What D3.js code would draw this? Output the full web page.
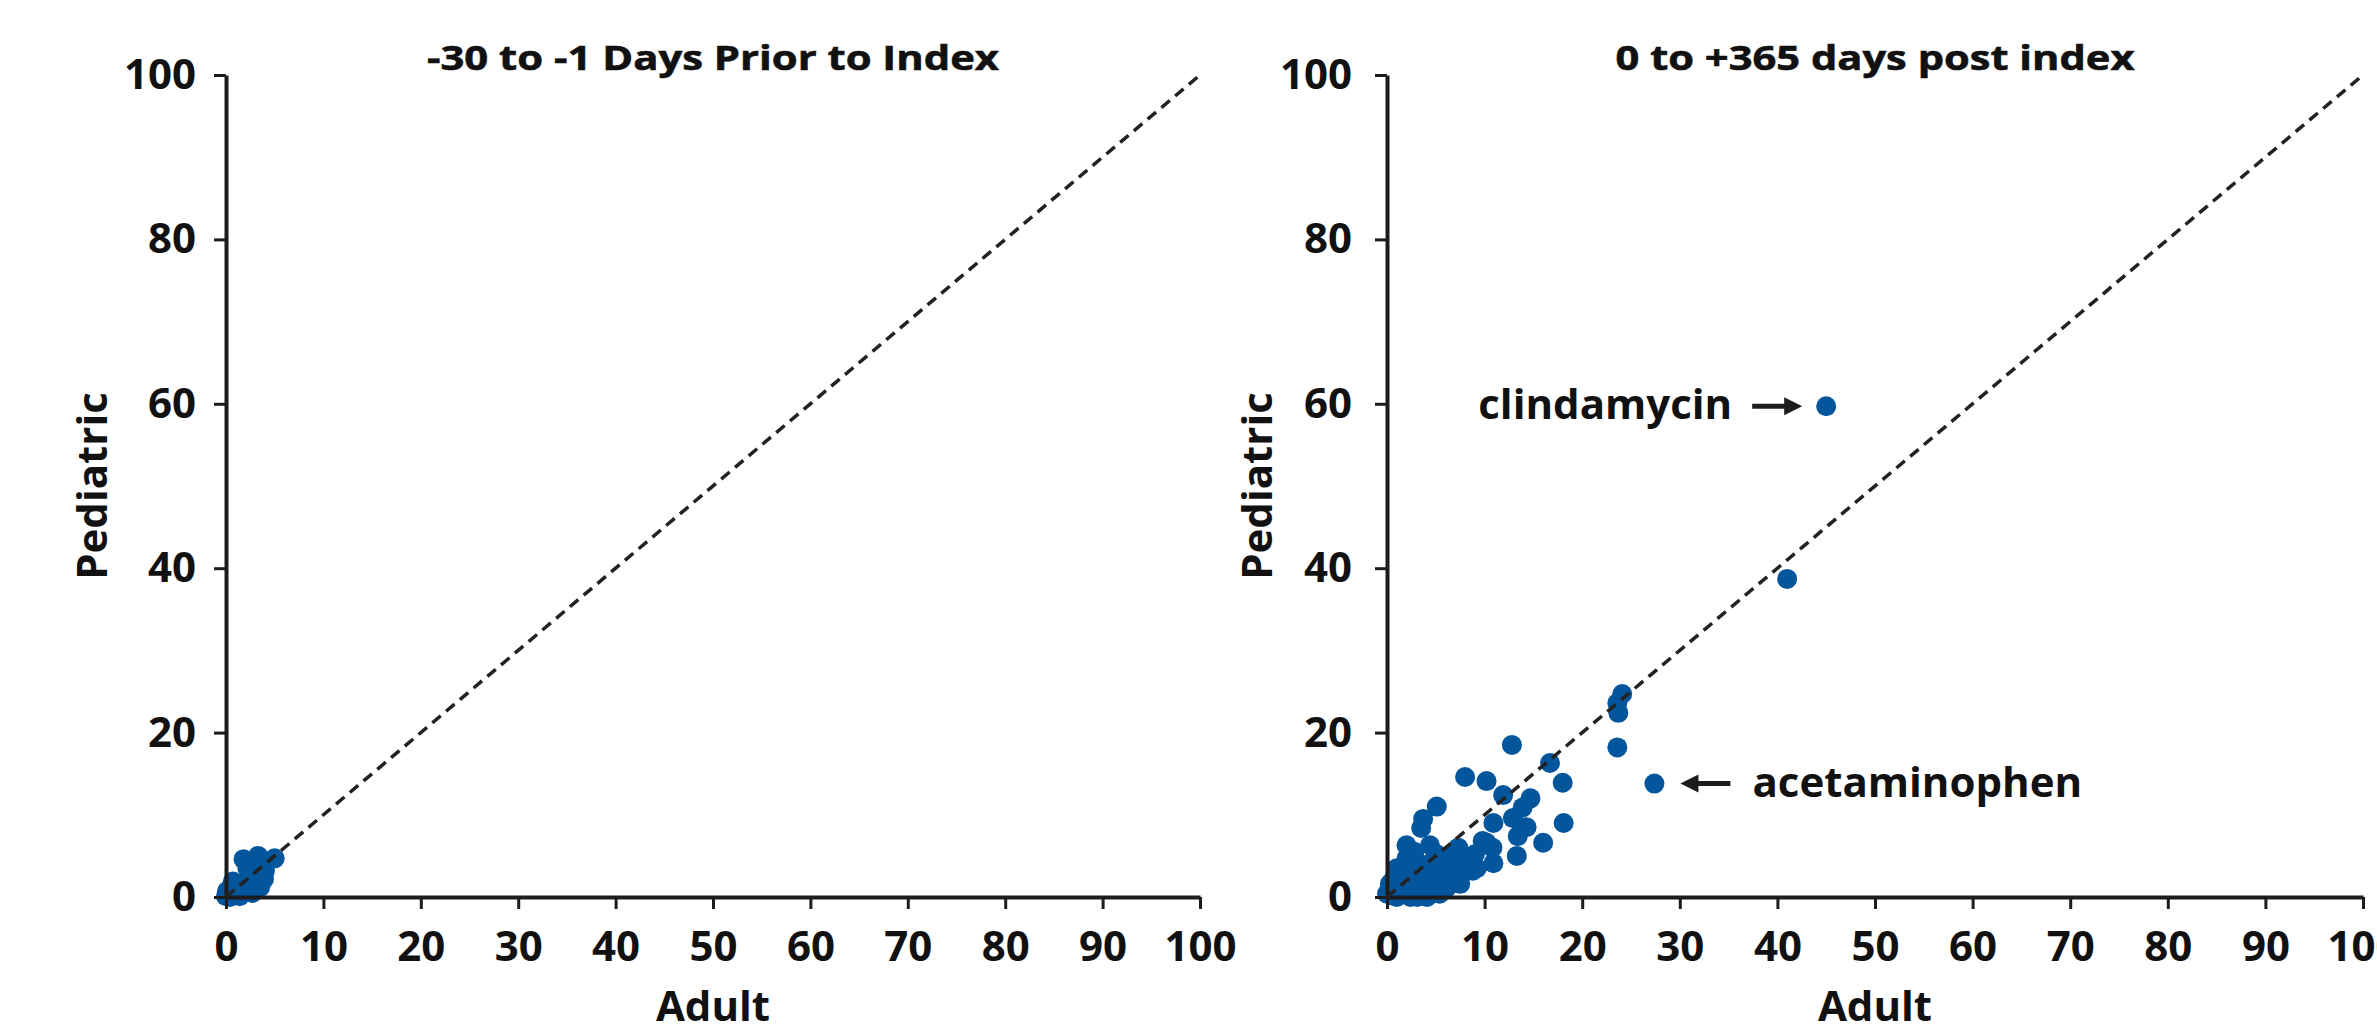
<!DOCTYPE html>
<html><head><meta charset="utf-8">
<script src="https://cdn.jsdelivr.net/npm/d3@7"></script>
<style>
html,body{margin:0;padding:0;background:#fff;}
svg{display:block;font-family:'Open Sans',sans-serif;font-weight:700;}
</style>
</head><body>
<svg id="chart" width="2377" height="1032"></svg>
<script>
// ---- data ----
const xTickValues = [0,10,20,30,40,50,60,70,80,90,100];
const yTickValues = [0,20,40,60,80,100];
const panelTitles = ["-30 to -1 Days Prior to Index", "0 to +365 days post index"];
const xAxisTitle = "Adult";
const yAxisTitle = "Pediatric";

const preAdult      = [0, 0.1, 0.4, 1.4, 2.7, 0.7, 1.1, 1.7, 2.5, 3.7, 4.0, 2.2, 1.8, 3.2, 5.0, 0.3, 2.0, 3.5, 0.9, 2.9, 0.5, 3.9, 3.3];
const prePediatric  = [0.1, 0.7, 0, 0.1, 0.5, 1.9, 1.1, 1.6, 2.3, 1.9, 3.2, 3.5, 4.6, 4.6, 4.7, 0.3, 0.8, 1.2, 0.4, 2.8, 1.2, 2.2, 5.0];

const postAdult     = [45, 41, 27.4, 24.1, 23.6, 23.7, 23.6, 12.8, 16.7, 18.0, 10.2, 8.0, 11.9, 14.7, 13.9, 12.9, 14.3, 10.9, 18.1, 16.0, 13.4, 13.3, 5.1, 3.7, 3.5,
                       10.2, 10.9, 9.2, 8.2, 7.3, 6.5, 7.5, 7.5, 6.3, 5.1, 5.4, 4.1, 6.1, 4.1, 3.1, 3.7, 3.4, 2.0, 4.4, 2.0, 1.3, 1.0, 0.6, 0.3, 0, 1.0, 2.4, 3.1, 2.4,
                       5.1, 4.4, 9.8, 9.0, 10.8, 0.2, 1.5, 0.5, 1.8, 2.8, 5.8, 8.8, 6.8, 4.8, 1.2];
const postPediatric = [59.7, 38.7, 13.8, 24.7, 23.6, 22.4, 18.2, 18.5, 16.3, 13.9, 14.1, 14.6, 12.4, 12.0, 10.9, 9.6, 8.5, 9.0, 9.0, 6.6, 7.4, 5.0, 11.0, 9.5, 8.4,
                       6.6, 4.1, 3.5, 4.7, 6.0, 4.4, 1.6, 2.8, 3.5, 3.2, 0.4, 0, 1.1, 1.9, 2.8, 1.1, 4.0, 6.3, 6.3, 4.7, 3.5, 3.5, 2.0, 1.6, 0.4, 0, 0, 0, 1.1,
                       5.2, 3.5, 6.8, 5.2, 6.0, 0.8, 0.5, 0.2, 2.2, 5.5, 2.2, 3.2, 5.3, 4.5, 1.5];

const annotationLabels    = ["clindamycin", "acetaminophen"];
const annotationAdult     = [45, 27.4];
const annotationPediatric = [59.7, 13.8];

// ---- layout ----
const INK = "#1d1b1c", DOT = "#03559c";
const panels = [
  {x0: 226, x1: 1200, yPad: 18, labelX: 107, titleW: 572, adult: preAdult, ped: prePediatric, annotate: false},
  {x0: 1387, x1: 2363, yPad: 23, labelX: 1272, titleW: 519, adult: postAdult, ped: postPediatric, annotate: true}
];
const yTop = 75, yBottom = 897;

const svg = d3.select("#chart");

panels.forEach((p, i) => {
  const x = d3.scaleLinear().domain([0, 100]).range([p.x0, p.x1]);
  const y = d3.scaleLinear().domain([0, 100]).range([yBottom, yTop]);
  const g = svg.append("g");

  // points
  const pts = p.adult.map((a, k) => ({a, c: p.ped[k]}));
  g.append("g").selectAll("circle").data(pts).join("circle")
    .attr("cx", d => x(d.a)).attr("cy", d => y(d.c)).attr("r", 10)
    .attr("fill", DOT);

  // axes
  const xa = g.append("g").attr("transform", `translate(0,${y(0)})`)
    .call(d3.axisBottom(x).tickValues(xTickValues).tickSize(12).tickPadding(22).tickSizeOuter(0));
  const ya = g.append("g").attr("transform", `translate(${x(0)},0)`)
    .call(d3.axisLeft(y).tickValues(yTickValues).tickSize(12).tickPadding(p.yPad).tickSizeOuter(0));
  [xa, ya].forEach(a => {
    a.select(".domain").attr("stroke", INK).attr("stroke-width", 4);
    a.selectAll(".tick line").attr("stroke", INK).attr("stroke-width", 3);
    a.selectAll(".tick text").attr("fill", "#111").attr("font-size", 42)
      .attr("font-family", "'Open Sans',sans-serif").attr("font-weight", 700);
  });

  // identity line (drawn above points)
  g.append("line")
    .attr("x1", x(0)).attr("y1", y(0)).attr("x2", x(100)).attr("y2", y(100))
    .attr("stroke", "#222").attr("stroke-width", 3.5).attr("stroke-dasharray", "11,7");

  // titles
  g.append("text").attr("x", (p.x0 + p.x1) / 2).attr("y", 70)
    .attr("text-anchor", "middle").attr("font-size", 34).attr("fill", "#111")
    .attr("stroke", "#111").attr("stroke-width", 0.6)
    .attr("textLength", p.titleW).attr("lengthAdjust", "spacingAndGlyphs")
    .text(panelTitles[i]);
  g.append("text").attr("x", (p.x0 + p.x1) / 2).attr("y", 1021)
    .attr("text-anchor", "middle").attr("font-size", 42).attr("fill", "#111")
    .text(xAxisTitle);
  g.append("text").attr("transform", `translate(${p.labelX},${(yTop + yBottom) / 2}) rotate(-90)`)
    .attr("text-anchor", "middle").attr("font-size", 42).attr("fill", "#111")
    .text(yAxisTitle);

  if (p.annotate) {
    // clindamycin: label left of point, arrow pointing right
    const cx0 = x(annotationAdult[0]), cy0 = y(annotationPediatric[0]);
    g.append("text").attr("x", cx0 - 94).attr("y", cy0 + 13)
      .attr("text-anchor", "end").attr("font-size", 42).attr("fill", "#111")
      .text(annotationLabels[0]);
    g.append("line").attr("x1", cx0 - 74).attr("y1", cy0).attr("x2", cx0 - 40).attr("y2", cy0)
      .attr("stroke", INK).attr("stroke-width", 5);
    g.append("path").attr("d", `M${cx0 - 24},${cy0} L${cx0 - 42},${cy0 - 9} L${cx0 - 42},${cy0 + 9} Z`)
      .attr("fill", INK);

    // acetaminophen: arrow pointing left, label right
    const cx1 = x(annotationAdult[1]), cy1 = y(annotationPediatric[1]);
    g.append("path").attr("d", `M${cx1 + 26},${cy1} L${cx1 + 44},${cy1 - 9} L${cx1 + 44},${cy1 + 9} Z`)
      .attr("fill", INK);
    g.append("line").attr("x1", cx1 + 42).attr("y1", cy1).attr("x2", cx1 + 76).attr("y2", cy1)
      .attr("stroke", INK).attr("stroke-width", 5);
    g.append("text").attr("x", cx1 + 98).attr("y", cy1 + 13)
      .attr("text-anchor", "start").attr("font-size", 42).attr("fill", "#111")
      .text(annotationLabels[1]);
  }
});
</script>
</body></html>
